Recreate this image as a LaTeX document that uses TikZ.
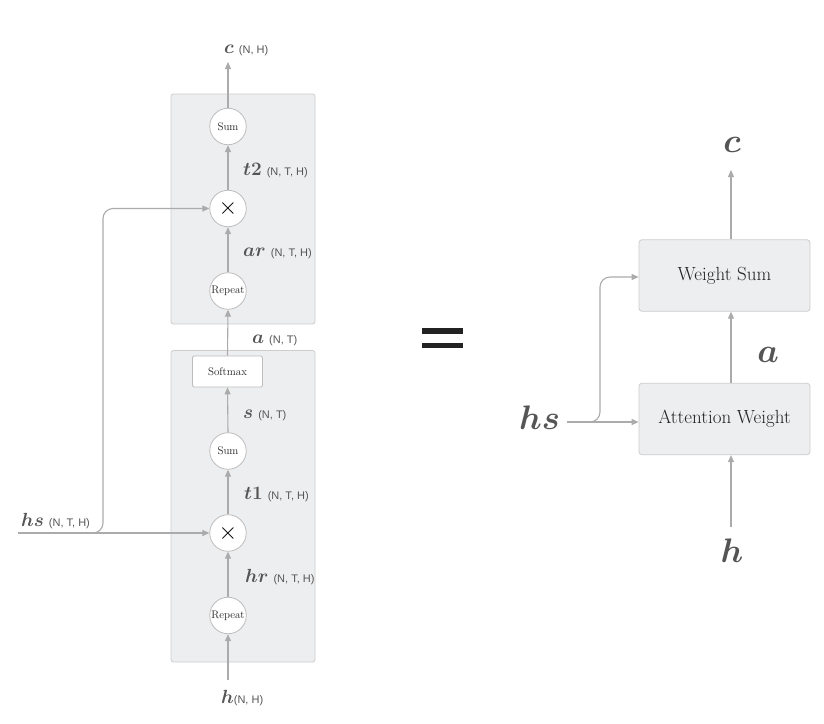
\RequirePackage{fix-cm}
\documentclass[tikz,border=0pt]{standalone}
\usepackage{fontspec}
\usepackage{bm}
\usetikzlibrary{arrows.meta}
\newfontfamily\dimfont{Liberation Sans}

\definecolor{linegray}{HTML}{ABABAB}
\definecolor{rimgray}{HTML}{BDBDBD}
\definecolor{panelfill}{HTML}{EDEEF0}
\definecolor{panelrim}{HTML}{CDCDCD}
\definecolor{labgray}{HTML}{555555}
\definecolor{inkdark}{HTML}{222222}

% variable name followed by its shape
\newcommand\varlab[2]{$\bm{#1}$\hspace{5pt}{\dimfont\fontsize{11}{12}\selectfont #2}}

\tikzset{
  conn/.style={draw=linegray, line width=1.1pt, -{Triangle[length=7pt,width=6pt]}},
  op/.style={circle, draw=rimgray, fill=white, line width=0.8pt, minimum size=36.5pt,
    inner sep=0pt, text=inkdark, font=\fontsize{11}{12}\selectfont},
  panel/.style={draw=panelrim, fill=panelfill, line width=0.8pt, rounded corners=2.5pt},
  lab/.style={text=labgray, inner sep=0pt, anchor=base west, font=\fontsize{19}{21}\selectfont},
  biglab/.style={text=labgray, inner sep=0pt, anchor=base, font=\fontsize{34}{36}\selectfont},
  block/.style={draw=panelrim, fill=panelfill, line width=0.8pt, rounded corners=3pt,
    minimum width=171pt, minimum height=71.5pt, inner sep=0pt, text=inkdark,
    font=\fontsize{19}{21}\selectfont},
}

\begin{document}
\begin{tikzpicture}[x=1pt, y=-1pt]
  \useasboundingbox (0,0) rectangle (824,723);
  \fill[white] (0,0) rectangle (824,723);

  % ---------- detailed layer (left) ----------
  \path[panel] (171,94) rectangle (315,324);
  \path[panel] (171,350.5) rectangle (315,662);

  \node[op] (sum2) at (228,126.5) {Sum};
  \node[op, text=black] (mul2) at (228,208.5) {\fontsize{24}{24}\selectfont$\times$};
  \node[op] (rep2) at (228,291) {Repeat};
  \node[draw=rimgray, fill=white, line width=0.8pt, rounded corners=2pt,
        minimum width=70pt, minimum height=31pt, inner sep=0pt, text=inkdark,
        font=\fontsize{11}{12}\selectfont] (soft) at (227.5,371.5) {Softmax};
  \node[op] (sum1) at (228,451) {Sum};
  \node[op, text=black] (mul1) at (228,533) {\fontsize{24}{24}\selectfont$\times$};
  \node[op] (rep1) at (228,615.5) {Repeat};

  \coordinate (cout) at (228,62);
  \coordinate (hin) at (228,680);
  \coordinate (hsin) at (18,533);
  \coordinate (bx) at (103,533);

  \draw[conn] (sum2.north) -- (cout);
  \draw[conn] (mul2.north) -- (sum2.south);
  \draw[conn] (rep2.north) -- (mul2.south);
  \draw[conn] (soft.north) -- (rep2.south);
  \draw[conn] (sum1.north) -- (soft.south);
  \draw[conn] (mul1.north) -- (sum1.south);
  \draw[conn] (rep1.north) -- (mul1.south);
  \draw[conn] (hin) -- (rep1.south);
  \draw[conn] (hsin) -- (mul1.west);
  \draw[conn, rounded corners=10pt] (hsin) -- (bx) -- (bx |- mul2.west) -- (mul2.west);

  \node[lab] (lc) at (224,53) {\varlab{c}{(N, H)}};
  \node[lab] (lt2) at (243,175) {\varlab{t2}{(N, T, H)}};
  \node[lab] (lar) at (243,256) {\varlab{ar}{(N, T, H)}};
  \node[lab] (la) at (252,343) {\varlab{a}{(N, T)}};
  \node[lab] (ls) at (243,418) {\varlab{s}{(N, T)}};
  \node[lab] (lt1) at (244,499) {\varlab{t1}{(N, T, H)}};
  \node[lab] (lhr) at (245,582) {\varlab{hr}{(N, T, H)}};
  \node[lab] (lh) at (221,703) {$\bm{h}${\dimfont\fontsize{11}{12}\selectfont (N, H)}};
  \node[lab] (lhs) at (21,526) {\varlab{hs}{(N, T, H)}};

  % ---------- equals sign ----------
  \fill[inkdark] (422,328) rectangle (463,333.5);
  \fill[inkdark] (422,342.5) rectangle (463,348);

  % ---------- compact layer (right) ----------
  \node[block] (ws) at (724.5,275.5) {Weight Sum};
  \node[block] (att) at (724.5,419) {Attention Weight};
  \coordinate (cx) at (731,0);
  \coordinate (cright) at (731,170);
  \coordinate (hright) at (731,527);
  \coordinate (rbx) at (600,422);

  \node[biglab] (rc) at (732,152) {$\bm{c}$};
  \node[biglab] (ra) at (768,362) {$\bm{a}$};
  \node[biglab] (rh) at (732,562) {$\bm{h}$};
  \node[biglab, anchor=base west] (rhs) at (519,429) {$\bm{hs}$};

  \draw[conn] (ws.north -| cx) -- (cright);
  \draw[conn] (att.north -| cx) -- (ws.south -| cx);
  \draw[conn] (hright) -- (att.south -| cx);
  \draw[conn] (567,422) -- (att.west |- rbx);
  \draw[conn, rounded corners=10pt] (567,422) -- (rbx) -- (rbx |- 0,277) -- (ws.west |- 0,277);
\end{tikzpicture}
\end{document}
